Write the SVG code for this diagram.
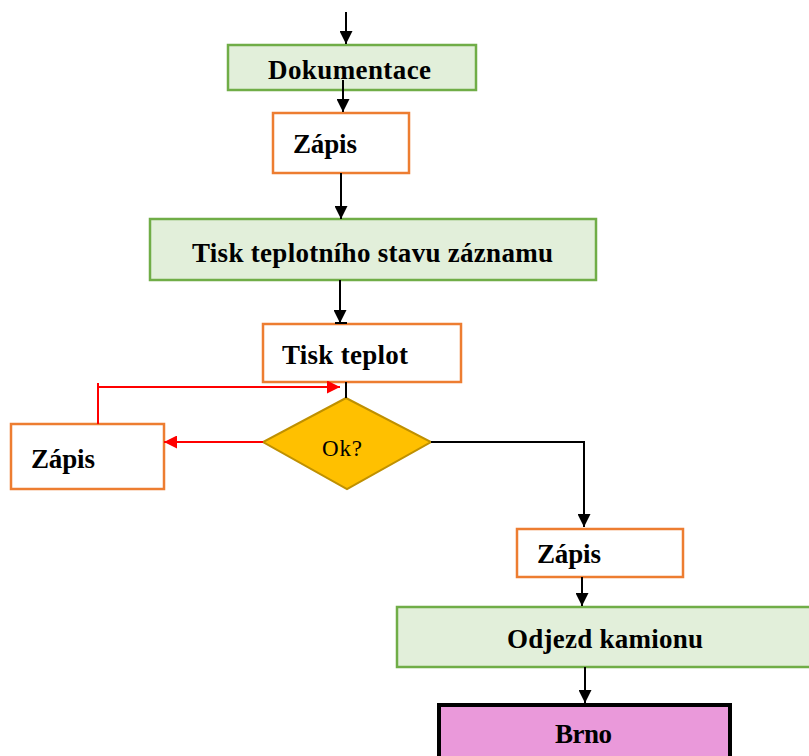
<svg xmlns="http://www.w3.org/2000/svg" width="809" height="756" viewBox="0 0 809 756">
  <style>
    .lbl { font-family: "Liberation Serif", "Times New Roman", serif; font-weight: bold; font-size: 27px; fill: #000; }
    .green { fill: #e2efda; stroke: #70ad47; stroke-width: 2.5; }
    .orange { fill: #ffffff; stroke: #ed7d31; stroke-width: 2.5; }
    .flow { fill: none; stroke: #000; stroke-width: 2; }
    .back { fill: none; stroke: #ff0000; stroke-width: 2; }
  </style>
  <defs>
    <marker id="arrowBlack" viewBox="0 0 10 10" refX="10" refY="5" markerUnits="userSpaceOnUse" markerWidth="14" markerHeight="13" orient="auto">
      <path d="M0,0 L10,5 L0,10 z" fill="#000"/>
    </marker>
    <marker id="arrowRed" viewBox="0 0 10 10" refX="10" refY="5" markerUnits="userSpaceOnUse" markerWidth="14" markerHeight="13" orient="auto">
      <path d="M0,0 L10,5 L0,10 z" fill="#ff0000"/>
    </marker>
  </defs>

  <rect width="809" height="756" fill="#ffffff"/>

  <!-- nodes -->
  <g id="dokumentace">
    <rect class="green" x="228" y="45" width="248" height="45"/>
    <text class="lbl" x="268" y="79" textLength="163" lengthAdjust="spacing">Dokumentace</text>
  </g>

  <g id="zapis1">
    <rect class="orange" x="273" y="113" width="136" height="60"/>
    <text class="lbl" x="293" y="153" textLength="64" lengthAdjust="spacing">Zápis</text>
  </g>

  <g id="tisk-stavu">
    <rect class="green" x="150" y="219" width="446" height="61"/>
    <text class="lbl" x="192" y="262" textLength="361" lengthAdjust="spacing">Tisk teplotního stavu záznamu</text>
  </g>

  <g id="tisk-teplot">
    <rect class="orange" x="263" y="324" width="198" height="58"/>
    <text class="lbl" x="282" y="364" textLength="126" lengthAdjust="spacing">Tisk teplot</text>
  </g>

  <g id="ok">
    <polygon points="346,398 431,442 347,489 263,442" fill="#ffc000" stroke="#bf9000" stroke-width="2"/>
    <text x="342" y="456" text-anchor="middle" font-family="Liberation Serif, Times New Roman, serif" font-size="23" textLength="40" lengthAdjust="spacing">Ok?</text>
  </g>

  <g id="zapis-left">
    <rect class="orange" x="11" y="424" width="153" height="65"/>
    <text class="lbl" x="31" y="468" textLength="64" lengthAdjust="spacing">Zápis</text>
  </g>

  <g id="zapis-right">
    <rect class="orange" x="517" y="529" width="166" height="48"/>
    <text class="lbl" x="537" y="563" textLength="64" lengthAdjust="spacing">Zápis</text>
  </g>

  <g id="odjezd">
    <rect class="green" x="397" y="607" width="420" height="60"/>
    <text class="lbl" x="507" y="648" textLength="196" lengthAdjust="spacing">Odjezd kamionu</text>
  </g>

  <g id="brno">
    <rect x="439" y="705" width="291" height="60" fill="#ea99da" stroke="#000" stroke-width="4"/>
    <text class="lbl" x="555" y="743" textLength="57" lengthAdjust="spacing">Brno</text>
  </g>

  <!-- connectors -->
  <g id="connectors">
    <line class="flow" x1="346" y1="12" x2="346" y2="44" marker-end="url(#arrowBlack)"/>
    <line class="flow" x1="343" y1="80" x2="343" y2="112" marker-end="url(#arrowBlack)"/>
    <line class="flow" x1="341" y1="173" x2="341" y2="219" marker-end="url(#arrowBlack)"/>
    <line class="flow" x1="340" y1="280" x2="340" y2="323" marker-end="url(#arrowBlack)"/>
    <line class="flow" x1="335" y1="323" x2="347" y2="323"/>
    <line class="flow" x1="346" y1="382" x2="346" y2="398"/>
    <polyline class="flow" points="431,442 584,442 584,527" marker-end="url(#arrowBlack)"/>
    <line class="flow" x1="582" y1="577" x2="582" y2="606" marker-end="url(#arrowBlack)"/>
    <line class="flow" x1="585" y1="667" x2="585" y2="703" marker-end="url(#arrowBlack)"/>
    <line class="back" x1="263" y1="442" x2="164" y2="442" marker-end="url(#arrowRed)"/>
    <polyline class="back" points="98,383 98,387 340,387" marker-end="url(#arrowRed)"/>
    <line class="back" x1="98" y1="383" x2="98" y2="424"/>
  </g>
</svg>
